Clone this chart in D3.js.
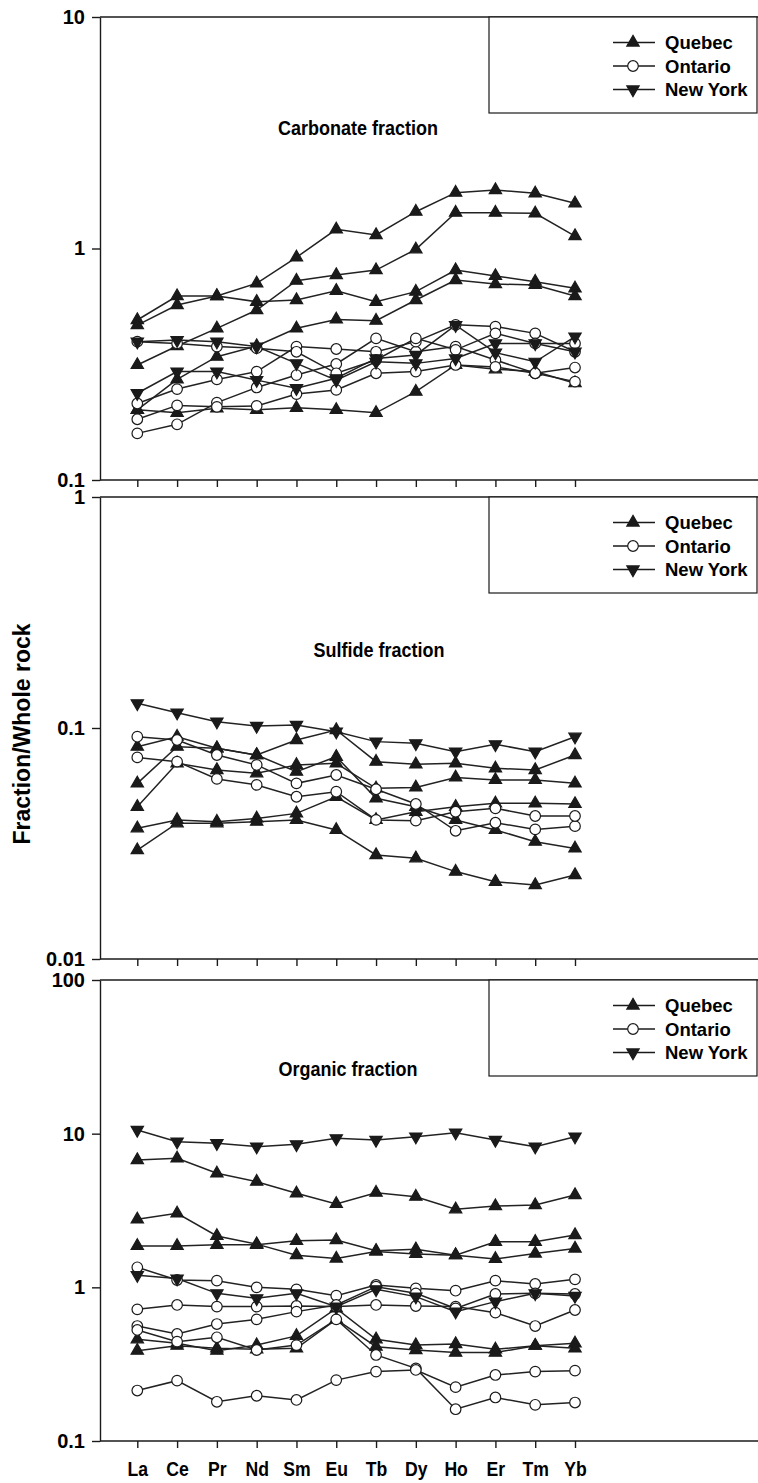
<!DOCTYPE html>
<html>
<head>
<meta charset="utf-8">
<script src="https://cdn.jsdelivr.net/npm/d3@7/dist/d3.min.js"></script>
<style>
	body { margin: 0; background: #fff; }
	svg { display: block; font-family: "Liberation Sans", Arial, Helvetica, sans-serif; font-weight: bold; }
</style>
</head>
<body>
<div id="chart"></div>
<script>
// x categories
const elements = ['La', 'Ce', 'Pr', 'Nd', 'Sm', 'Eu', 'Tb', 'Dy', 'Ho', 'Er', 'Tm', 'Yb'];
const groups = ['Quebec', 'Ontario', 'New York'];

// carbonate fraction
const carbonateQuebec = [
	[0.491, 0.623, 0.623, 0.589, 0.599, 0.657, 0.589, 0.651, 0.807, 0.761, 0.719, 0.673],
	[0.467, 0.570, 0.623, 0.707, 0.916, 1.210, 1.144, 1.442, 1.743, 1.789, 1.731, 1.567],
	[0.314, 0.379, 0.452, 0.542, 0.726, 0.768, 0.807, 0.992, 1.428, 1.428, 1.419, 1.132],
	[0.201, 0.272, 0.341, 0.379, 0.452, 0.494, 0.488, 0.599, 0.731, 0.702, 0.696, 0.623],
	[0.201, 0.195, 0.204, 0.201, 0.205, 0.201, 0.195, 0.241, 0.314, 0.301, 0.294, 0.262]
];
const carbonateOntario = [
	[0.159, 0.174, 0.216, 0.251, 0.284, 0.317, 0.409, 0.358, 0.377, 0.330, 0.289, 0.306],
	[0.183, 0.210, 0.207, 0.209, 0.235, 0.245, 0.289, 0.294, 0.314, 0.308, 0.289, 0.266],
	[0.214, 0.247, 0.272, 0.294, 0.377, 0.368, 0.358, 0.396, 0.468, 0.460, 0.430, 0.358],
	[0.396, 0.389, 0.377, 0.371, 0.358, 0.289, 0.330, 0.409, 0.365, 0.430, 0.389, 0.389]
];
const carbonateNewYork = [
	[0.396, 0.402, 0.396, 0.377, 0.319, 0.270, 0.324, 0.319, 0.335, 0.389, 0.389, 0.358],
	[0.237, 0.294, 0.294, 0.270, 0.249, 0.275, 0.335, 0.347, 0.467, 0.355, 0.324, 0.416]
];

// sulfide fraction
const sulfideQuebec = [
	[0.0830, 0.0917, 0.0817, 0.0764, 0.0887, 0.0980, 0.0715, 0.0696, 0.0703, 0.0669, 0.0658, 0.0764],
	[0.0576, 0.0830, 0.0817, 0.0764, 0.0647, 0.0751, 0.0496, 0.0456, 0.0400, 0.0362, 0.0322, 0.0301],
	[0.0456, 0.0703, 0.0658, 0.0637, 0.0692, 0.0703, 0.0548, 0.0553, 0.0611, 0.0596, 0.0596, 0.0576],
	[0.0368, 0.0400, 0.0393, 0.0406, 0.0427, 0.0504, 0.0400, 0.0434, 0.0456, 0.0472, 0.0472, 0.0469],
	[0.0296, 0.0387, 0.0387, 0.0393, 0.0400, 0.0362, 0.0282, 0.0273, 0.0239, 0.0216, 0.0209, 0.0231]
];
const sulfideOntario = [
	[0.0917, 0.0887, 0.0764, 0.0692, 0.0576, 0.0626, 0.0543, 0.0469, 0.0359, 0.0389, 0.0364, 0.0376],
	[0.0746, 0.0715, 0.0602, 0.0567, 0.0504, 0.0530, 0.0400, 0.0397, 0.0434, 0.0449, 0.0416, 0.0416]
];
const sulfideNewYork = [
	[0.1279, 0.1165, 0.1065, 0.1020, 0.1030, 0.0964, 0.0873, 0.0858, 0.0790, 0.0850, 0.0790, 0.0917]
];

// organic fraction
const organicQuebec = [
	[6.74, 6.91, 5.52, 4.87, 4.09, 3.49, 4.13, 3.89, 3.22, 3.38, 3.43, 3.99],
	[2.77, 3.03, 2.16, 1.91, 1.62, 1.54, 1.71, 1.65, 1.62, 1.53, 1.66, 1.79],
	[1.86, 1.86, 1.89, 1.89, 2.01, 2.03, 1.73, 1.77, 1.62, 1.98, 1.98, 2.19],
	[0.459, 0.432, 0.387, 0.421, 0.483, 0.730, 0.459, 0.421, 0.428, 0.395, 0.417, 0.432],
	[0.387, 0.417, 0.401, 0.395, 0.401, 0.619, 0.411, 0.391, 0.376, 0.376, 0.417, 0.401]
];
const organicOntario = [
	[0.719, 0.768, 0.749, 0.749, 0.756, 0.749, 0.768, 0.756, 0.749, 0.684, 0.560, 0.712],
	[1.350, 1.116, 1.105, 1.000, 0.970, 0.883, 1.036, 0.985, 0.951, 1.105, 1.051, 1.127],
	[0.560, 0.497, 0.577, 0.619, 0.695, 0.768, 1.010, 0.914, 0.730, 0.905, 0.914, 0.905],
	[0.528, 0.443, 0.473, 0.391, 0.421, 0.619, 0.363, 0.297, 0.161, 0.192, 0.172, 0.178],
	[0.213, 0.247, 0.180, 0.197, 0.185, 0.249, 0.283, 0.290, 0.224, 0.269, 0.283, 0.287]
];
const organicNewYork = [
	[10.56, 8.87, 8.66, 8.23, 8.52, 9.32, 9.09, 9.56, 10.15, 9.09, 8.23, 9.56],
	[1.20, 1.14, 0.914, 0.848, 0.914, 0.749, 0.970, 0.870, 0.695, 0.807, 0.914, 0.878]
];

// y ticks
const carbonateTicks = [0.1, 1, 10];
const sulfideTicks = [0.01, 0.1, 1];
const organicTicks = [0.1, 1, 10, 100];

const yLabel = 'Fraction/Whole rock';

// panel layout
const panels = [
	{ title: 'Carbonate fraction', series: [carbonateQuebec, carbonateOntario, carbonateNewYork], ticks: carbonateTicks, top: 17, bottom: 480, titleX: 358, titleY: 135 },
	{ title: 'Sulfide fraction', series: [sulfideQuebec, sulfideOntario, sulfideNewYork], ticks: sulfideTicks, top: 497, bottom: 959, titleX: 379, titleY: 657 },
	{ title: 'Organic fraction', series: [organicQuebec, organicOntario, organicNewYork], ticks: organicTicks, top: 980, bottom: 1441, titleX: 348, titleY: 1076 }
];

const width = 758;
const height = 1483;
const axisX = 100;
const ink = '#1a1a1a';

const scaleX = d3.scalePoint()
	.domain(elements)
	.range([137.3, 575]);

const symbols = [
	{ type: d3.symbolTriangle, rotate: 0, fill: ink },
	{ type: d3.symbolCircle, rotate: 0, fill: '#fff' },
	{ type: d3.symbolTriangle, rotate: 180, fill: ink }
];
const symbolSize = [66, 88, 66];

const $svg = d3.select('#chart').append('svg')
	.attr('width', width)
	.attr('height', height);

// draw a marker of group g at (x, y)
function marker($parent, g, x, y) {
	const s = symbols[g];
	return $parent.append('path')
		.attr('d', d3.symbol().type(s.type).size(symbolSize[g])())
		.attr('transform', `translate(${x},${y}) rotate(${s.rotate})`)
		.attr('fill', s.fill)
		.attr('stroke', ink)
		.attr('stroke-width', 1.2);
}

panels.forEach((p, pi) => {
	const lo = d3.min(p.ticks);
	const hi = d3.max(p.ticks);
	const scaleY = d3.scaleLog().domain([lo, hi]).range([p.bottom, p.top]);
	const $g = $svg.append('g').attr('class', 'panel');

	// frame lines
	$g.append('line')
		.attr('x1', axisX).attr('x2', width)
		.attr('y1', p.top).attr('y2', p.top)
		.attr('stroke', ink).attr('stroke-width', 1.4);
	$g.append('line')
		.attr('x1', axisX).attr('x2', width)
		.attr('y1', p.bottom).attr('y2', p.bottom)
		.attr('stroke', ink).attr('stroke-width', 1.4);

	// y axis
	const $yAxis = $g.append('g')
		.attr('transform', `translate(${axisX},0)`)
		.call(d3.axisLeft(scaleY)
			.tickValues(p.ticks)
			.tickFormat(d3.format('~g'))
			.tickSize(8)
			.tickSizeOuter(0)
			.tickPadding(7));
	$yAxis.select('.domain').attr('stroke', ink).attr('stroke-width', 1.4);
	$yAxis.selectAll('.tick line').attr('stroke', ink).attr('stroke-width', 1.4);
	$yAxis.selectAll('.tick text')
		.attr('fill', '#000')
		.style('font-size', '20px')
		.style('font-family', '"Liberation Sans", Arial, sans-serif')
		.style('font-weight', 'bold');

	// x axis
	const $xAxis = $g.append('g')
		.attr('transform', `translate(0,${p.bottom})`)
		.call(d3.axisBottom(scaleX)
			.tickSize(7)
			.tickPadding(13)
			.tickFormat(pi === panels.length - 1 ? (d => d) : () => ''));
	$xAxis.select('.domain').remove();
	$xAxis.selectAll('.tick line').attr('stroke', ink).attr('stroke-width', 1.4);
	$xAxis.selectAll('.tick text')
		.attr('fill', '#000')
		.attr('transform', 'scale(0.86,1)')
		.style('font-size', '20.5px')
		.style('font-family', '"Liberation Sans", Arial, sans-serif')
		.style('font-weight', 'bold');

	// series
	const line = d3.line()
		.x((d, i) => scaleX(elements[i]))
		.y(d => scaleY(d));

	p.series.forEach(set => {
		set.forEach(values => {
			$g.append('path')
				.attr('d', line(values))
				.attr('fill', 'none')
				.attr('stroke', '#222')
				.attr('stroke-width', 1.5);
		});
	});
	p.series.forEach((set, gi) => {
		set.forEach(values => {
			values.forEach((v, i) => marker($g, gi, scaleX(elements[i]), scaleY(v)));
		});
	});

	// title
	$g.append('text')
		.attr('transform', `translate(${p.titleX},${p.titleY}) scale(0.9,1)`)
		.attr('text-anchor', 'middle')
		.style('font-size', '20px')
		.text(p.title);

	// legend
	const legX = 489;
	const $leg = $g.append('g').attr('transform', `translate(${legX},${p.top})`);
	$leg.append('rect')
		.attr('x', 0).attr('y', 0)
		.attr('width', 757 - legX).attr('height', 96)
		.attr('fill', '#fff')
		.attr('stroke', ink).attr('stroke-width', 1.2);
	groups.forEach((name, gi) => {
		const ry = 25.5 + gi * 23.5;
		$leg.append('line')
			.attr('x1', 124).attr('x2', 166)
			.attr('y1', ry).attr('y2', ry)
			.attr('stroke', ink).attr('stroke-width', 1.4);
		marker($leg, gi, 144, ry);
		$leg.append('text')
			.attr('x', 176).attr('y', ry)
			.attr('dy', '0.36em')
			.style('font-size', '18.5px')
			.text(name);
	});
});

// shared y label
$svg.append('text')
	.attr('transform', 'translate(30,734) rotate(-90)')
	.attr('text-anchor', 'middle')
	.style('font-size', '23px')
	.text(yLabel);
</script>
</body>
</html>
